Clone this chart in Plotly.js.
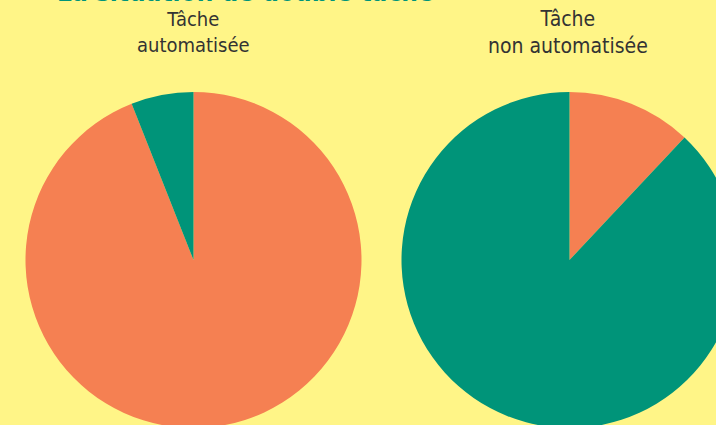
<!DOCTYPE html>
<html>
<head>
<meta charset="utf-8">
<script src="https://cdn.plot.ly/plotly-3.0.1.min.js"></script>
<style>
html,body{margin:0;padding:0;background:#FFF587;overflow:hidden;width:716px;height:425px;}
#chart{width:760px;height:430px;}
</style>
</head>
<body>
<div id="chart"></div>
<script>
// Data
const labelsLeft = ["Tâche", "Attention partagée"];
const valuesLeft = [94, 6];
const labelsRight = ["Attention partagée", "Tâche"];
const valuesRight = [12, 88];
const colorsLeft = ["#F58052", "#009479"];
const colorsRight = ["#F58052", "#009479"];
const subtitles = ["Tâche<br>automatisée", "Tâche<br>non automatisée"];
const mainTitle = "La situation de double tâche";

const W = 760, H = 430;
const dom = (a, b) => [a / W, b / W];
const ydom = [2 / H, 338 / H];

const traces = [
  {
    type: "pie", values: valuesLeft, labels: labelsLeft,
    marker: {colors: colorsLeft, line: {width: 0}},
    sort: false, direction: "clockwise", rotation: 0,
    textinfo: "none", hoverinfo: "label+percent",
    domain: {x: dom(25.5, 361.5), y: ydom}
  },
  {
    type: "pie", values: valuesRight, labels: labelsRight,
    marker: {colors: colorsRight, line: {width: 0}},
    sort: false, direction: "clockwise", rotation: 0,
    textinfo: "none", hoverinfo: "label+percent",
    domain: {x: dom(399, 740), y: ydom}
  }
];

const subFont = {family: "DejaVu Sans Condensed, Liberation Sans Narrow, sans-serif", size: 20, color: "#333333"};

const layout = {
  width: W, height: H,
  paper_bgcolor: "#FFF587", plot_bgcolor: "#FFF587",
  margin: {l: 0, r: 0, t: 0, b: 0},
  showlegend: false,
  annotations: [
    {text: subtitles[0], x: 193.5 / W, y: (H - 32) / H, xref: "paper", yref: "paper",
     xanchor: "center", yanchor: "middle", showarrow: false, font: subFont},
    {text: subtitles[1], x: 568 / W, y: (H - 32) / H, xref: "paper", yref: "paper",
     xanchor: "center", yanchor: "middle", showarrow: false,
     font: Object.assign({}, subFont, {size: 21})},
    {text: "<b>" + mainTitle + "</b>", x: 55 / W, y: (H - 9) / H, xref: "paper", yref: "paper",
     xanchor: "left", yanchor: "bottom", showarrow: false,
     font: {family: "DejaVu Sans Condensed, sans-serif", size: 26, color: "#009479"}}
  ]
};

Plotly.newPlot("chart", traces, layout, {displayModeBar: false, staticPlot: true});
</script>
</body>
</html>
